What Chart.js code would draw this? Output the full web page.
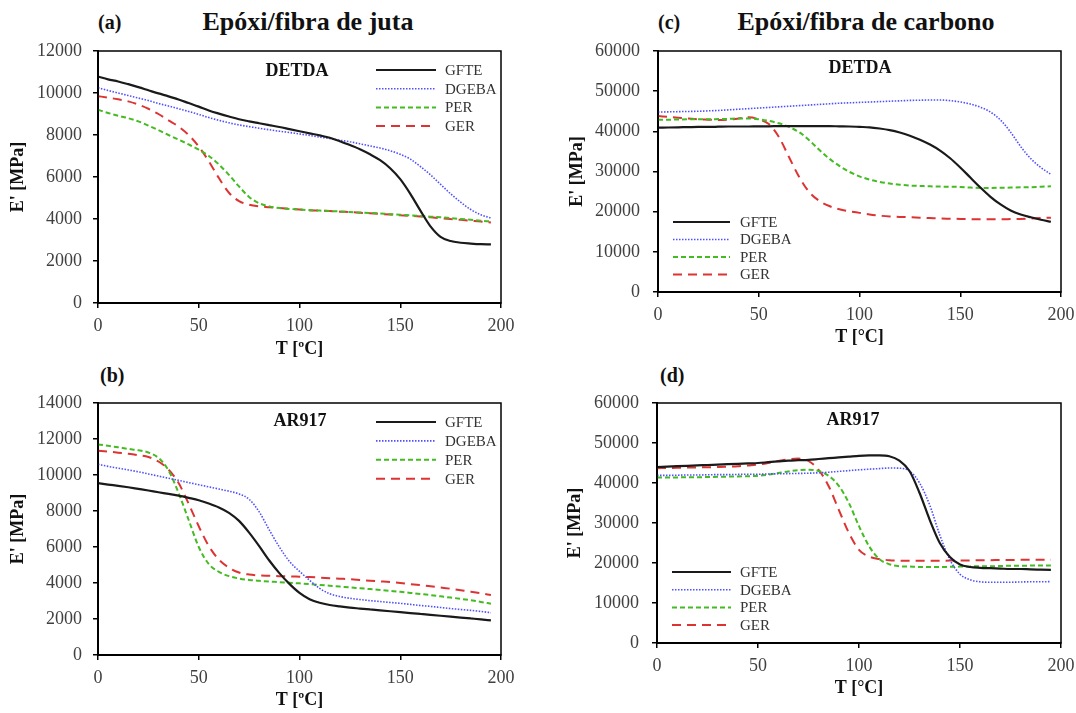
<!DOCTYPE html>
<html>
<head>
<meta charset="utf-8">
<script src="https://cdn.jsdelivr.net/npm/chart.js@4/dist/chart.umd.min.js"></script>
<style>
  body { margin: 0; background: #fff; width: 1076px; height: 713px; position: relative; overflow: hidden; font-family: "Liberation Serif", serif; }
  canvas { position: absolute; }
  .lbl { position: absolute; font-weight: bold; color: #111; white-space: nowrap; }
  .tag { font-size: 20px; line-height: 24px; }
  .head { font-size: 26px; line-height: 28px; width: 400px; text-align: center; }
</style>
</head>
<body>
<div class="lbl tag" style="left:98px; top:10px;">(a)</div>
<div class="lbl head" style="left:108px; top:8px;">Epóxi/fibra de juta</div>
<div class="lbl tag" style="left:658px; top:10px;">(c)</div>
<div class="lbl head" style="left:666px; top:8px;">Epóxi/fibra de carbono</div>
<div class="lbl tag" style="left:100px; top:363px;">(b)</div>
<div class="lbl tag" style="left:660px; top:363px;">(d)</div>

<canvas id="chart_a" width="514" height="319" style="left:0px; top:41px;"></canvas>
<canvas id="chart_b" width="514" height="318" style="left:0px; top:393px;"></canvas>
<canvas id="chart_c" width="534" height="307" style="left:540px; top:41px;"></canvas>
<canvas id="chart_d" width="534" height="306" style="left:540px; top:393px;"></canvas>

<script>
"use strict";

// temperature, degC
const temps = [0, 5, 10, 15, 20, 25, 30, 35, 40, 45, 50, 55, 60, 65, 70, 75, 80, 85, 90, 95,
  100, 105, 110, 115, 120, 125, 130, 135, 140, 145, 150, 155, 160, 165, 170, 175, 180, 185, 190, 195];
const names = ['GFTE', 'DGEBA', 'PER', 'GER'];

// (a) epoxi/juta, DETDA - E' [MPa]
const a_gfte = [10780, 10650, 10550, 10420, 10280, 10130, 9980, 9840, 9690, 9520, 9350, 9170, 9020, 8880, 8750, 8650, 8560, 8470, 8380, 8280,
  8180, 8080, 7980, 7870, 7700, 7520, 7320, 7080, 6800, 6420, 5900, 5200, 4400, 3650, 3150, 2950, 2870, 2830, 2800, 2790];
const a_dgeba = [10250, 10120, 10000, 9880, 9760, 9640, 9500, 9380, 9250, 9120, 8980, 8830, 8700, 8580, 8480, 8400, 8320, 8250, 8180, 8120,
  8050, 7980, 7900, 7830, 7750, 7680, 7580, 7480, 7380, 7250, 7080, 6850, 6500, 6100, 5650, 5200, 4800, 4450, 4200, 4050];
const a_per = [9200, 9050, 8920, 8800, 8650, 8450, 8230, 8000, 7780, 7550, 7300, 7000, 6600, 6100, 5550, 5050, 4750, 4600, 4520, 4480,
  4450, 4420, 4400, 4380, 4360, 4330, 4310, 4290, 4260, 4230, 4200, 4170, 4140, 4110, 4080, 4040, 4000, 3960, 3920, 3880];
const a_ger = [9850, 9780, 9700, 9600, 9450, 9250, 9000, 8700, 8400, 8000, 7450, 6750, 5950, 5250, 4850, 4680, 4600, 4560, 4520, 4480,
  4450, 4420, 4400, 4380, 4350, 4330, 4300, 4270, 4240, 4210, 4180, 4150, 4120, 4080, 4040, 4000, 3960, 3920, 3880, 3830];

// (b) epoxi/juta, AR917
const b_gfte = [9550, 9470, 9400, 9320, 9230, 9140, 9040, 8950, 8850, 8730, 8600, 8420, 8200, 7900, 7450, 6800, 6050, 5250, 4550, 3950,
  3450, 3100, 2900, 2780, 2700, 2630, 2580, 2530, 2480, 2430, 2380, 2330, 2280, 2230, 2180, 2130, 2080, 2030, 1980, 1920];
const b_dgeba = [10600, 10480, 10380, 10280, 10180, 10060, 9940, 9820, 9700, 9580, 9460, 9340, 9220, 9100, 8950, 8650, 7950, 6950, 6000, 5200,
  4650, 4150, 3700, 3400, 3250, 3150, 3080, 3020, 2970, 2920, 2870, 2810, 2750, 2700, 2640, 2580, 2530, 2480, 2420, 2350];
const b_per = [11700, 11620, 11540, 11450, 11380, 11250, 10950, 10250, 9000, 7500, 6000, 5050, 4620, 4380, 4250, 4170, 4120, 4080, 4050, 4010,
  3980, 3940, 3890, 3850, 3800, 3760, 3710, 3660, 3610, 3560, 3510, 3450, 3390, 3330, 3260, 3190, 3120, 3040, 2950, 2850];
const b_ger = [11350, 11300, 11240, 11180, 11100, 11000, 10750, 10300, 9550, 8400, 7150, 6050, 5300, 4850, 4580, 4470, 4420, 4400, 4380, 4370,
  4350, 4330, 4300, 4270, 4240, 4210, 4170, 4130, 4090, 4050, 4000, 3940, 3880, 3820, 3750, 3680, 3600, 3520, 3430, 3330];

// (c) epoxi/carbono, DETDA
const c_gfte = [40900, 40950, 41000, 41050, 41100, 41100, 41150, 41200, 41200, 41200, 41250, 41250, 41300, 41300, 41300, 41300, 41300, 41300, 41250, 41200,
  41100, 41000, 40700, 40300, 39700, 38900, 37900, 36700, 35200, 33300, 31000, 28500, 26000, 23700, 21800, 20300, 19300, 18600, 18000, 17500];
const c_dgeba = [44800, 44850, 44900, 44950, 45000, 45100, 45200, 45350, 45500, 45650, 45800, 45950, 46100, 46250, 46400, 46550, 46700, 46850, 47000, 47100,
  47200, 47300, 47400, 47500, 47600, 47700, 47750, 47800, 47800, 47650, 47300, 46800, 46000, 44800, 42800, 39800, 36200, 33200, 31000, 29300];
const c_per = [42900, 42900, 42950, 43000, 43000, 43000, 43050, 43100, 43200, 43200, 43000, 42600, 42000, 41100, 39800, 37800, 35400, 33200, 31400, 29900,
  28800, 28000, 27400, 27000, 26700, 26500, 26400, 26300, 26250, 26200, 26150, 26000, 25900, 25900, 25950, 26000, 26050, 26100, 26200, 26300];
const c_ger = [43800, 43600, 43400, 43200, 43000, 42900, 42800, 42900, 43200, 43500, 43000, 41800, 38600, 33600, 28700, 24900, 22700, 21400, 20600, 20100,
  19700, 19300, 19000, 18800, 18700, 18600, 18500, 18400, 18300, 18250, 18200, 18150, 18100, 18100, 18100, 18150, 18200, 18300, 18400, 18500];

// (d) epoxi/carbono, AR917
const d_gfte = [44000, 44100, 44200, 44300, 44400, 44500, 44600, 44700, 44800, 44900, 45000, 45200, 45400, 45600, 45700, 45800, 46000, 46200, 46400, 46600,
  46800, 46900, 46900, 46700, 45600, 43000, 37500, 30800, 25000, 21500, 19600, 19000, 18800, 18700, 18600, 18500, 18500, 18400, 18350, 18300];
const d_dgeba = [41900, 41900, 41950, 42000, 42000, 42050, 42100, 42100, 42150, 42200, 42200, 42250, 42300, 42350, 42400, 42450, 42550, 42700, 42900, 43100,
  43300, 43450, 43600, 43750, 43700, 43000, 40000, 34500, 27000, 20800, 17200, 15800, 15300, 15200, 15200, 15200, 15250, 15300, 15300, 15350];
const d_per = [41400, 41400, 41400, 41450, 41450, 41500, 41550, 41600, 41650, 41700, 41800, 42100, 42500, 42900, 43200, 43300, 43000, 41800, 39300, 35000,
  29200, 24200, 21000, 19700, 19200, 19100, 19000, 19000, 19000, 19050, 19100, 19150, 19200, 19200, 19250, 19300, 19300, 19350, 19400, 19400];
const d_ger = [43700, 43750, 43800, 43850, 43900, 43950, 44000, 44100, 44200, 44400, 44600, 45000, 45500, 45900, 46100, 45500, 43300, 39200, 33300, 27500,
  23300, 21600, 21000, 20700, 20600, 20550, 20550, 20550, 20550, 20600, 20600, 20650, 20700, 20700, 20750, 20750, 20800, 20800, 20800, 20800];

const line_colors = ['#1a1a1a', '#5050ff', '#44bb22', '#dd3333'];
const line_dashes = [[], [1.5, 1.5], [5, 3], [9, 6]];
const line_widths = [2.2, 1.6, 2, 2];

Chart.defaults.font.family = '"Liberation Serif", "Times New Roman", serif';
Chart.defaults.color = '#404040';

// box round the plot, inner tag (DETDA / AR917) and legend inside the plot
const frame_plugin = {
  id: 'frame',
  afterDatasetsDraw(chart, args, opts) {
    const a = chart.chartArea;
    const ctx = chart.ctx;
    ctx.save();
    ctx.strokeStyle = '#000';
    ctx.lineWidth = 1.5;
    ctx.strokeRect(a.left, a.top, a.right - a.left, a.bottom - a.top);

    ctx.font = 'bold 18px "Liberation Serif"';
    ctx.fillStyle = '#111';
    ctx.textAlign = 'center';
    ctx.textBaseline = 'middle';
    ctx.fillText(opts.text, a.left + opts.text_x, a.top + opts.text_y);

    ctx.font = '15px "Liberation Serif"';
    ctx.textAlign = 'left';
    chart.data.datasets.forEach((ds, i) => {
      const y = a.top + opts.leg_y + i * opts.leg_step;
      ctx.beginPath();
      ctx.setLineDash(ds.borderDash);
      ctx.lineWidth = ds.borderWidth;
      ctx.strokeStyle = ds.borderColor;
      ctx.moveTo(a.left + opts.leg_x1, y);
      ctx.lineTo(a.left + opts.leg_x2, y);
      ctx.stroke();
      ctx.setLineDash([]);
      ctx.fillStyle = '#333';
      ctx.fillText(ds.label, a.left + opts.leg_x2 + opts.leg_gap, y + 1);
    });
    ctx.restore();
  }
};

function make_chart(id, series, cfg) {
  return new Chart(document.getElementById(id), {
    type: 'line',
    data: {
      datasets: series.map((values, i) => ({
        label: names[i],
        data: values.map((v, j) => ({ x: temps[j], y: v })),
        borderColor: line_colors[i],
        borderDash: line_dashes[i],
        borderWidth: line_widths[i],
        pointRadius: 0,
        fill: false,
        cubicInterpolationMode: 'monotone',
      })),
    },
    options: {
      responsive: false,
      animation: false,
      layout: { padding: { top: 10, right: 13, left: 0, bottom: 0 } },
      plugins: {
        legend: { display: false },
        tooltip: { enabled: false },
        frame: cfg.frame,
      },
      scales: {
        x: {
          type: 'linear',
          min: 0, max: 200,
          ticks: { stepSize: 50, padding: 7, font: { size: 18 }, maxRotation: 0 },
          grid: { drawOnChartArea: false, drawTicks: true, tickLength: 5, color: '#000', lineWidth: 1.5 },
          border: { display: true, color: '#000', width: 2 },
          title: { display: true, text: cfg.x_title, color: '#111', font: { size: 18, weight: 'bold' }, padding: { top: 0, bottom: 0 } },
          afterFit: (s) => { s.height = cfg.x_height; s.paddingLeft = 0; s.paddingRight = 0; },
        },
        y: {
          min: 0, max: cfg.y_max,
          ticks: { stepSize: cfg.y_step, padding: cfg.y_pad, font: { size: 18 }, callback: (v) => String(v) },
          grid: { drawOnChartArea: false, drawTicks: true, tickLength: 5, color: '#000', lineWidth: 1.5 },
          border: { display: true, color: '#000', width: 2 },
          title: { display: true, text: "E' [MPa]", color: '#111', font: { size: 18, weight: 'bold' }, padding: { top: cfg.y_title_pad, bottom: 0 } },
          afterFit: (s) => { s.width = cfg.y_width; s.paddingTop = 0; s.paddingBottom = 0; },
        },
      },
    },
    plugins: [frame_plugin],
  });
}

make_chart('chart_a', [a_gfte, a_dgeba, a_per, a_ger], {
  y_max: 12000, y_step: 2000, y_width: 98, y_pad: 11, y_title_pad: 8, x_height: 57, x_title: 'T [ºC]',
  frame: { text: 'DETDA', text_x: 199, text_y: 20, leg_x1: 278, leg_x2: 338, leg_gap: 9, leg_y: 19, leg_step: 18.7 },
});

make_chart('chart_b', [b_gfte, b_dgeba, b_per, b_ger], {
  y_max: 14000, y_step: 2000, y_width: 98, y_pad: 11, y_title_pad: 8, x_height: 56, x_title: 'T [ºC]',
  frame: { text: 'AR917', text_x: 202, text_y: 18, leg_x1: 278, leg_x2: 338, leg_gap: 9, leg_y: 19, leg_step: 18.9 },
});

make_chart('chart_c', [c_gfte, c_dgeba, c_per, c_ger], {
  y_max: 60000, y_step: 10000, y_width: 118, y_pad: 13, y_title_pad: 27, x_height: 56, x_title: 'T [°C]',
  frame: { text: 'DETDA', text_x: 202, text_y: 17, leg_x1: 15, leg_x2: 72, leg_gap: 10, leg_y: 171, leg_step: 17.5 },
});

make_chart('chart_d', [d_gfte, d_dgeba, d_per, d_ger], {
  y_max: 60000, y_step: 10000, y_width: 117, y_pad: 13, y_title_pad: 25, x_height: 56, x_title: 'T [°C]',
  frame: { text: 'AR917', text_x: 196, text_y: 17, leg_x1: 15, leg_x2: 74, leg_gap: 9, leg_y: 169, leg_step: 17.7 },
});
</script>
</body>
</html>
